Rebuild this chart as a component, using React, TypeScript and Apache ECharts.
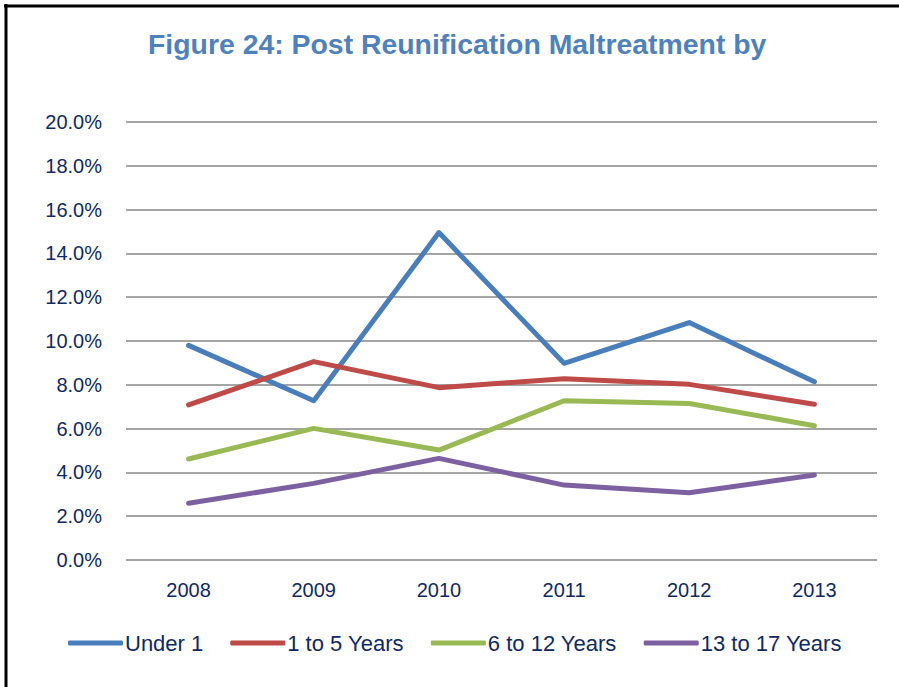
import React, { useEffect, useRef } from "react";
import * as echarts from "echarts";

const years = ["2008", "2009", "2010", "2011", "2012", "2013"];
const seriesNames = ["Under 1", "1 to 5 Years", "6 to 12 Years", "13 to 17 Years"];
const under1 = [9.8, 7.27, 14.95, 8.98, 10.84, 8.14];
const age1to5 = [7.08, 9.06, 7.87, 8.28, 8.02, 7.11];
const age6to12 = [4.61, 6.01, 5.02, 7.27, 7.15, 6.13];
const age13to17 = [2.59, 3.5, 4.64, 3.42, 3.07, 3.88];
const colors = ["#4a7ebb", "#be4b48", "#98b954", "#7d60a0"];
const yTicks = { min: 0, max: 20, interval: 2 };

export default function App() {
  const ref = useRef<HTMLDivElement>(null);
  useEffect(() => {
    if (!ref.current) return;
    const chart = echarts.init(ref.current, undefined, { renderer: "svg" });
    const data = [under1, age1to5, age6to12, age13to17];
    const font = "'Liberation Sans', Arial, sans-serif";
    chart.setOption({
      animation: false,
      title: {
        text: "Figure 24: Post Reunification Maltreatment by",
        left: 148,
        top: 30,
        padding: 0,
        textStyle: { color: "#4f81bd", fontFamily: font, fontWeight: "bold", fontSize: 28.4 },
      },
      graphic: [
        { type: "line", shape: { x1: 6, y1: 4, x2: 6, y2: 700 }, style: { stroke: "#000", lineWidth: 3 } },
        { type: "line", shape: { x1: 4, y1: 6, x2: 905, y2: 6 }, style: { stroke: "#000", lineWidth: 3 } },
      ],
      grid: { left: 126, right: 22, top: 122, bottom: 127 },
      legend: {
        data: seriesNames,
        left: 68,
        top: 632,
        padding: 0,
        itemWidth: 55,
        itemHeight: 5,
        itemGap: 27,
        icon: "roundRect",
        textStyle: { color: "#0f2a62", fontFamily: font, fontSize: 22, padding: [0, 0, 0, -3] },
      },
      xAxis: {
        type: "category",
        data: years,
        boundaryGap: true,
        axisLine: { show: false },
        axisTick: { show: false },
        axisLabel: { color: "#0f2a62", fontFamily: font, fontSize: 20, margin: 20 },
      },
      yAxis: {
        type: "value",
        min: yTicks.min,
        max: yTicks.max,
        interval: yTicks.interval,
        axisLine: { show: false },
        axisTick: { show: false },
        axisLabel: {
          color: "#0f2a62",
          fontFamily: font,
          fontSize: 20,
          margin: 24,
          formatter: (v: number) => v.toFixed(1) + "%",
        },
        splitLine: { lineStyle: { color: "#878787", width: 1.5 } },
      },
      series: seriesNames.map((name, i) => ({
        name,
        type: "line",
        data: data[i],
        showSymbol: false,
        symbol: "none",
        color: colors[i],
        lineStyle: { width: 5, color: colors[i], cap: "round", join: "round" },
        itemStyle: { color: colors[i] },
      })),
    });
    return () => chart.dispose();
  }, []);
  return (
    <div
      ref={ref}
      style={{ position: "absolute", left: 0, top: 0, width: 899, height: 687, background: "#fff" }}
    />
  );
}
